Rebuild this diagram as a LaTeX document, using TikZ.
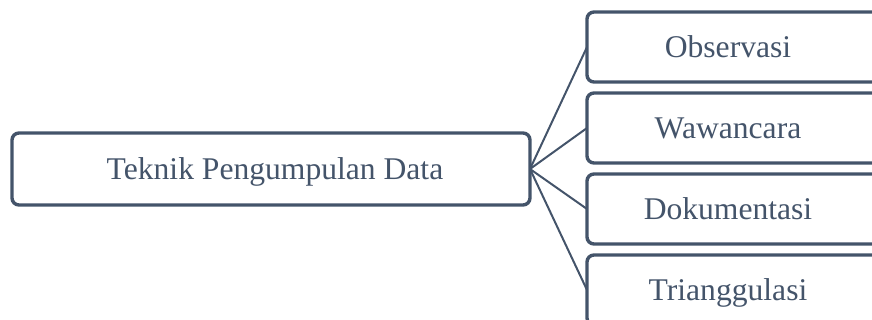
\documentclass[tikz,border=0pt]{standalone}
\usepackage{fontspec}
\setmainfont{Liberation Serif}
\definecolor{slate}{HTML}{44546A}
\begin{document}
\begin{tikzpicture}[x=1pt,y=-1pt,
  box/.style={draw=slate,line width=3.4pt,rounded corners=7pt,fill=white},
  lbl/.style={text=slate,font=\fontsize{31.6}{38}\selectfont,inner sep=0pt,anchor=base},
  conn/.style={draw=slate,line width=2pt}]
\useasboundingbox (0,0) rectangle (872,320);
\clip (0,0) rectangle (872,320);
% left box
\draw[box] (12,133) rectangle (530,205);
\node[lbl] (main) at (275,180) {Teknik Pengumpulan Data};
\coordinate (hub) at (530,169);
% right boxes
\draw[box] (587,12) rectangle (880,82);
\draw[box] (587,93) rectangle (880,163);
\draw[box] (587,174) rectangle (880,244);
\draw[box] (587,255) rectangle (880,325);
\node[lbl] (obs) at (728,57.5) {Observasi};
\node[lbl] (waw) at (728,138.5) {Wawancara};
\node[lbl] (dok) at (728,219.5) {Dokumentasi};
\node[lbl] (tri) at (728,300.5) {Trianggulasi};
\coordinate (eobs) at (587,47);
\coordinate (ewaw) at (587,128);
\coordinate (edok) at (587,209);
\coordinate (etri) at (587,290);
\draw[conn] (hub) -- (eobs);
\draw[conn] (hub) -- (ewaw);
\draw[conn] (hub) -- (edok);
\draw[conn] (hub) -- (etri);
\end{tikzpicture}
\end{document}
